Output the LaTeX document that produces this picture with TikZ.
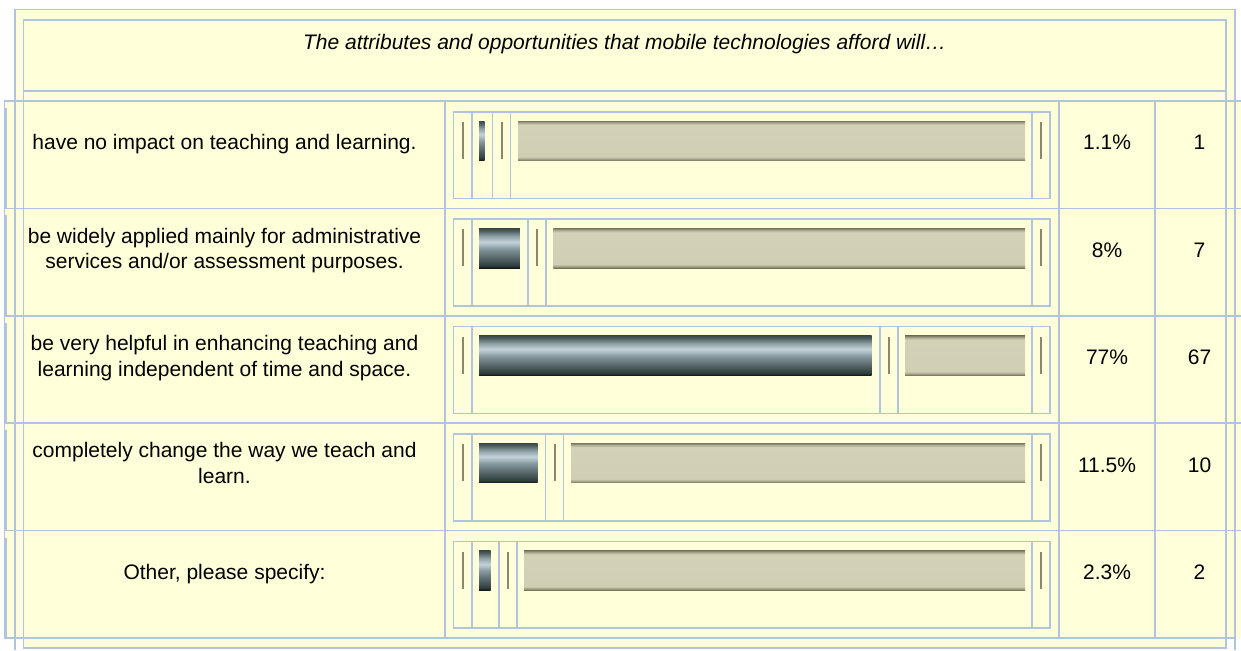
\documentclass[tikz,border=0pt]{standalone}
\usepackage{fontspec}
\setmainfont{Liberation Sans}

\definecolor{cellbg}{HTML}{FFFFD9}
\definecolor{rulec}{HTML}{B0C4DE}
\definecolor{tickc}{HTML}{8B8670}
% colours of the filled bar
\definecolor{steelA}{HTML}{0C1614}
\definecolor{steelB}{HTML}{2E3C3C}
\definecolor{steelC}{HTML}{5E6E72}
\definecolor{steelD}{HTML}{8A9CA2}
\definecolor{steelE}{HTML}{C4D3DA}
\definecolor{steelF}{HTML}{8A9CA0}
\definecolor{steelG}{HTML}{4E5E60}
\definecolor{steelH}{HTML}{3A4848}
% colours of the empty bar
\definecolor{khakiA}{HTML}{757159}
\definecolor{khakiB}{HTML}{A9A68E}
\definecolor{khakiC}{HTML}{D0CEB3}
\definecolor{khakiD}{HTML}{D3D1B6}
\definecolor{khakiE}{HTML}{B3B099}
\definecolor{khakiF}{HTML}{7F7B64}
\pgfdeclareverticalshading{steelbar}{100bp}{color(0bp)=(steelA); color(25bp)=(steelA); color(28bp)=(steelB); color(40bp)=(steelC); color(50bp)=(steelD); color(58bp)=(steelE); color(66bp)=(steelF); color(72bp)=(steelG); color(75bp)=(steelH); color(100bp)=(steelH)}
\pgfdeclareverticalshading{emptybar}{100bp}{color(0bp)=(khakiA); color(25bp)=(khakiA); color(27.5bp)=(khakiB); color(30bp)=(khakiC); color(70bp)=(khakiD); color(72.5bp)=(khakiE); color(75bp)=(khakiF); color(100bp)=(khakiF)}

\begin{document}
\begin{tikzpicture}[x=0.5pt,y=-0.5pt,line width=0.8pt,
  gridline/.style={draw=rulec},
  tickline/.style={draw=tickc,line width=1pt},
  celltext/.style={align=center,inner sep=0pt,font=\fontsize{10.5}{12.85}\selectfont,
    execute at begin node=\strut,execute at end node=\strut}]
\useasboundingbox (0,0) rectangle (1241,650);
% yellow cells
\fill[cellbg] (15,9.5) rectangle (1235,638);
\fill[cellbg] (4,101) rectangle (1241,638);
\fill[cellbg] (23.5,638) rectangle (1226,648);
% outer and inner frames
\draw[gridline] (15,650) -- (15,9.5) -- (1235,9.5) -- (1235,650);
\draw[gridline] (23.5,91) -- (23.5,20) -- (1226,20) -- (1226,91) -- cycle;
\draw[gridline] (23.5,91) -- (23.5,648) -- (1226,648) -- (1226,91);
\node[celltext,font=\fontsize{10.5}{12.85}\selectfont\itshape] (head) at (624.7,44)
  {The attributes and opportunities that mobile technologies afford will…};
% row lines and columns
\foreach \i in {0,...,4}
\draw[gridline] (4,101+107.4*\i) -- (1241,101+107.4*\i);
\draw[gridline] (4,638) -- (1236,638);
\draw[gridline] (4.3,101) -- (4.3,638);
\foreach \x in {445,1059,1155} % edit here for the columns
\draw[gridline] (\x,101) -- (\x,638);
% one row per answer
\foreach \i/\pct/\num/\txt in {
  0/1.1/1/{have no impact on teaching and learning.},
  1/8/7/{be widely applied mainly for administrative\\services and/or assessment purposes.},
  2/77/67/{be very helpful in enhancing teaching and\\learning independent of time and space.},
  3/11.5/10/{completely change the way we teach and\\learn.},
  4/2.3/2/{Other, please specify:}}
{
  \pgfmathsetmacro{\yr}{101+107.4*\i}
  \pgfmathsetmacro{\bend}{479+5.1*\pct}
  \draw[gridline] (5.8,\yr+7) -- (5.8,\yr+107);
  \draw[gridline] (453.5,\yr+10.7) rectangle (1050,\yr+97.5);
  \foreach \x in {471.7,\bend+8,\bend+26,1032}
  \draw[gridline] (\x,\yr+10.7) -- (\x,\yr+97.5);
  \foreach \x in {462.7,\bend+17,1040.7}
  \draw[tickline] (\x,\yr+21) -- (\x,\yr+58);
  \shade[shading=steelbar] (479,\yr+20) rectangle (\bend,\yr+59.7);
  \shade[shading=emptybar] (\bend+33.5,\yr+20) rectangle (1025,\yr+59.7);
  \node[celltext] (answer-\i) at (224.5,\yr+43.8) {\txt};
  \node[celltext] (share-\i) at (1107,\yr+43.8) {\pct\%};
  \node[celltext] (count-\i) at (1199.5,\yr+43.8) {\num};
}
\end{tikzpicture}
\end{document}
